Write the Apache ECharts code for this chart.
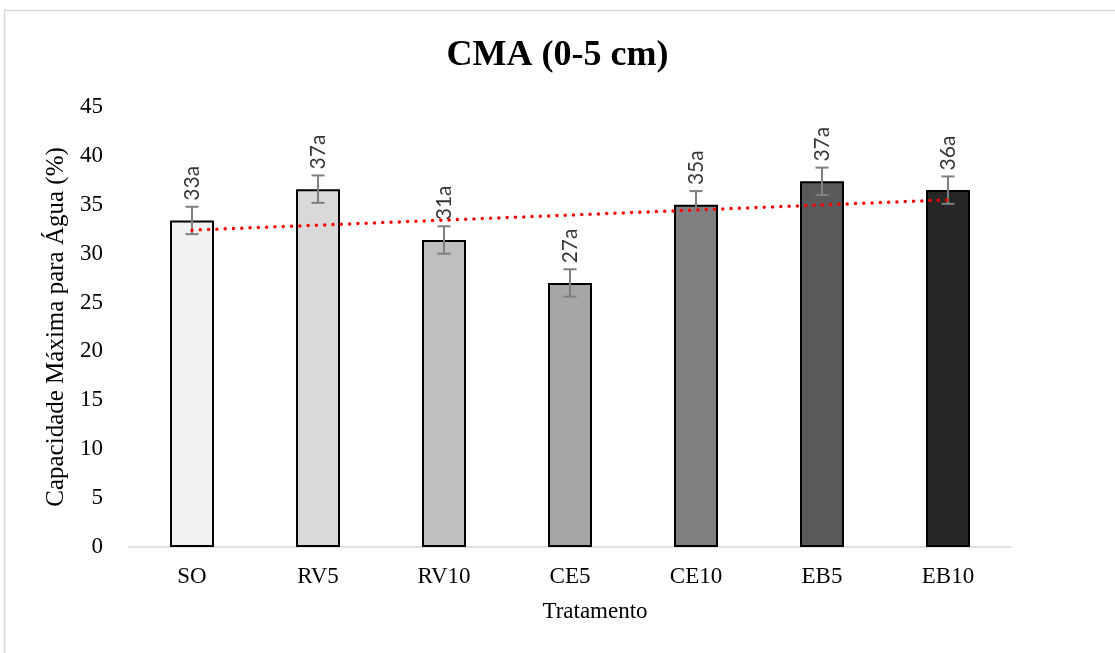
<!DOCTYPE html>
<html>
<head>
<meta charset="utf-8">
<script src="https://cdn.jsdelivr.net/npm/echarts@6/dist/echarts.min.js"></script>
<style>html,body{margin:0;padding:0;background:#fff}#c{width:1115px;height:653px}</style>
</head>
<body>
<div id="c"></div>
<script>
var categories = ['SO', 'RV5', 'RV10', 'CE5', 'CE10', 'EB5', 'EB10'];
var values = [33.4, 36.6, 31.4, 27.0, 35.0, 37.4, 36.5];
var errors = [1.4, 1.4, 1.4, 1.4, 1.4, 1.4, 1.4];
var letters = ['33a', '37a', '31a', '27a', '35a', '37a', '36a'];
var barColors = ['#f2f2f2', '#d9d9d9', '#bfbfbf', '#a6a6a6', '#7f7f7f', '#595959', '#262626'];
var trendEnds = [32.4, null, null, null, null, null, 35.5];
var yTicks = {min: 0, max: 45, interval: 5};

var chart = echarts.init(document.getElementById('c'), null, {renderer: 'canvas'});
var serif = 'Liberation Serif';

var errData = categories.map(function (c, i) { return [i, values[i] - errors[i], values[i] + errors[i]]; });
var labelData = categories.map(function (c, i) { return {value: [i, values[i] + errors[i]], name: letters[i]}; });

chart.setOption({
  backgroundColor: '#fff',
  animation: false,
  graphic: [{
    type: 'rect', silent: true, z: -1,
    shape: {x: 4.5, y: 10.5, width: 1120, height: 660},
    style: {fill: 'none', stroke: '#d9d9d9', lineWidth: 1.5}
  }],
  title: {
    text: 'CMA (0-5 cm)', left: 'center', top: 33,
    textStyle: {fontFamily: serif, fontSize: 36, fontWeight: 'bold', color: '#000'}
  },
  grid: {left: 129, right: 104, top: 107, bottom: 106},
  xAxis: {
    type: 'category', data: categories,
    name: 'Tratamento', nameLocation: 'middle', nameGap: 53,
    nameTextStyle: {fontFamily: serif, fontSize: 23, color: '#000', padding: [0, 0, 0, 50]},
    axisLine: {show: true, lineStyle: {color: '#d9d9d9', width: 1.5}},
    axisTick: {show: false},
    axisLabel: {fontFamily: serif, fontSize: 23, color: '#000', margin: 18},
    splitLine: {show: false}
  },
  yAxis: {
    type: 'value', min: yTicks.min, max: yTicks.max, interval: yTicks.interval,
    name: 'Capacidade Máxima para Água (%)', nameLocation: 'middle', nameGap: 58,
    nameTextStyle: {fontFamily: serif, fontSize: 25, color: '#000'},
    axisLine: {show: false}, axisTick: {show: false},
    axisLabel: {fontFamily: serif, fontSize: 23, color: '#000', margin: 26},
    splitLine: {show: false}
  },
  series: [
    {
      type: 'bar', barWidth: 44, z: 2,
      data: values.map(function (v, i) {
        return {value: v, itemStyle: {color: barColors[i], borderColor: '#000', borderWidth: 2}};
      })
    },
    {
      type: 'custom', z: 4,
      renderItem: function (params, api) {
        var x = api.value(0);
        var lo = api.coord([x, api.value(1)]);
        var hi = api.coord([x, api.value(2)]);
        var hw = 6.5;
        var st = {stroke: '#7f7f7f', lineWidth: 2};
        return {type: 'group', children: [
          {type: 'line', shape: {x1: lo[0], y1: lo[1], x2: hi[0], y2: hi[1]}, style: st},
          {type: 'line', shape: {x1: lo[0] - hw, y1: lo[1], x2: lo[0] + hw, y2: lo[1]}, style: st},
          {type: 'line', shape: {x1: hi[0] - hw, y1: hi[1], x2: hi[0] + hw, y2: hi[1]}, style: st}
        ]};
      },
      data: errData
    },
    {
      type: 'line', z: 5, connectNulls: true, symbol: 'none',
      lineStyle: {color: '#ff0000', width: 3.5, type: [0, 8.3], cap: 'round'},
      data: trendEnds
    },
    {
      type: 'scatter', z: 6, symbolSize: 0, silent: true,
      data: labelData,
      label: {
        show: true, position: 'top', distance: 6, rotate: 90,
        align: 'left', verticalAlign: 'middle',
        formatter: function (p) { return p.name; },
        fontFamily: 'Lato', fontSize: 21, color: '#000'
      }
    }
  ]
});
</script>
</body>
</html>
